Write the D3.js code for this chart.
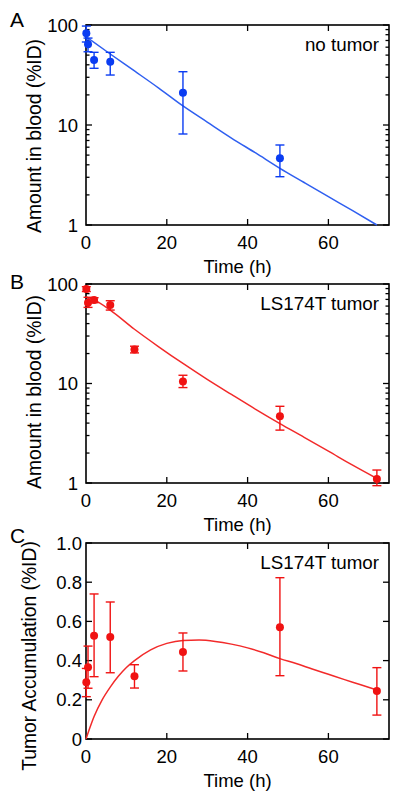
<!DOCTYPE html>
<html><head><meta charset="utf-8">
<script src="https://cdn.jsdelivr.net/npm/d3@7"></script>
<style>
html,body{margin:0;padding:0;background:#fff;}
text{font-family:"Liberation Sans",Arial,Helvetica,sans-serif;fill:#000;}
</style></head>
<body>
<svg id="chart" width="400" height="801"></svg>
<script>
// ---------- data ----------
const xTickValues = [0, 20, 40, 60];
const logTickValues = [1, 10, 100];
const linTickValues = [0, 0.2, 0.4, 0.6, 0.8, 1.0];
const linTickLabels = ["0", "0.2", "0.4", "0.6", "0.8", "1.0"];

// Panel A: blood, no tumor
const aTime = [0.083, 0.5, 2, 6, 24, 48];
const aMean = [82.6, 64.1, 44.7, 43.0, 21.0, 4.64];
const aLow  = [67.6, 54.0, 36.9, 31.6, 8.13, 3.04];
const aHigh = [97.6, 74.0, 53.3, 53.3, 34.1, 6.31];
const aFitTime  = [0, 6, 12, 18, 24, 30, 36, 42, 48, 54, 60, 66, 72];
const aFitValue = [76.4, 51.3, 34.7, 23.4, 15.5, 10.7, 7.41, 5.25, 3.69, 2.66, 1.92, 1.39, 1.0];

// Panel B: blood, LS174T tumor
const bTime = [0.083, 0.5, 2, 6, 12, 24, 48, 72];
const bMean = [89, 64.9, 69, 61.5, 22.0, 10.5, 4.69, 1.10];
const bLow  = [84, 58.2, 64.9, 54.7, 20.3, 9.1, 3.4, 0.94];
const bHigh = [94, 73.5, 72.8, 67.9, 23.7, 12.1, 5.9, 1.35];
const bFitTime  = [0, 2, 6, 12, 18, 24, 30, 36, 42, 48, 54, 60, 66, 72];
const bFitValue = [74.1, 69.2, 54.7, 35.1, 23.4, 15.9, 11.0, 7.76, 5.50, 3.95, 2.88, 2.09, 1.51, 1.11];

// Panel C: tumor accumulation
const cTime = [0.083, 0.5, 2, 6, 12, 24, 48, 72];
const cMean = [0.289, 0.366, 0.527, 0.52, 0.32, 0.444, 0.57, 0.245];
const cLow  = [0.216, 0.259, 0.318, 0.338, 0.26, 0.347, 0.323, 0.122];
const cHigh = [0.36, 0.474, 0.74, 0.699, 0.379, 0.541, 0.823, 0.364];
const cFitTime  = [0, 1, 2, 4, 6, 8, 10, 12, 16, 20, 24, 28, 32, 36, 40, 44, 48, 52, 56, 60, 64, 68, 72];
const cFitValue = [0, 0.06, 0.115, 0.2, 0.265, 0.32, 0.365, 0.40, 0.455, 0.488, 0.503, 0.505, 0.498, 0.484, 0.465, 0.44, 0.41, 0.385, 0.357, 0.33, 0.303, 0.277, 0.25];

// ---------- drawing ----------
const svg = d3.select("#chart");
const BLUE_PT = "#0a3cf2", BLUE_LN = "#2f5ff0";
const RED_PT = "#f01212", RED_LN = "#f22a2a";

function drawPanel(o) {
  const left = 86, right = 389;
  const x = d3.scaleLinear().domain([0, 75]).range([left, right]);
  const y = o.log
    ? d3.scaleLog().domain([1, 100]).range([o.bottom, o.top])
    : d3.scaleLinear().domain([0, 1]).range([o.bottom, o.top]);
  const g = svg.append("g");

  // inward ticks
  const tickLen = 6, minorLen = 3.5;
  const tg = g.append("g").attr("stroke", "#000").attr("stroke-width", 1.3);
  xTickValues.filter(v => v > 0).forEach(v => {
    tg.append("line").attr("x1", x(v)).attr("x2", x(v)).attr("y1", o.bottom).attr("y2", o.bottom - tickLen);
    tg.append("line").attr("x1", x(v)).attr("x2", x(v)).attr("y1", o.top).attr("y2", o.top + tickLen);
  });
  let yMajor, yMinor = [];
  if (o.log) {
    yMajor = logTickValues;
    y.ticks().forEach(v => { if (!logTickValues.includes(v)) yMinor.push(v); });
  } else {
    yMajor = linTickValues;
  }
  yMajor.forEach(v => {
    tg.append("line").attr("x1", left).attr("x2", left + tickLen).attr("y1", y(v)).attr("y2", y(v));
    tg.append("line").attr("x1", right).attr("x2", right - tickLen).attr("y1", y(v)).attr("y2", y(v));
  });
  yMinor.forEach(v => {
    tg.append("line").attr("x1", left).attr("x2", left + minorLen).attr("y1", y(v)).attr("y2", y(v));
    tg.append("line").attr("x1", right).attr("x2", right - minorLen).attr("y1", y(v)).attr("y2", y(v));
  });

  // frame
  g.append("rect").attr("x", left).attr("y", o.top).attr("width", right - left).attr("height", o.bottom - o.top)
    .attr("fill", "none").attr("stroke", "#000").attr("stroke-width", 1.6);

  // tick labels
  xTickValues.forEach(v => {
    g.append("text").attr("x", x(v)).attr("y", o.bottom + 24).attr("text-anchor", "middle")
      .attr("font-size", 18.5).text(v);
  });
  yMajor.forEach((v, i) => {
    g.append("text").attr("x", o.log ? 78 : 82).attr("y", y(v)).attr("dy", "0.36em")
      .attr("text-anchor", "end").attr("font-size", 18.5)
      .text(o.log ? v : linTickLabels[i]);
  });

  // axis titles
  g.append("text").attr("x", (left + right) / 2).attr("y", o.bottom + 47.5).attr("text-anchor", "middle")
    .attr("font-size", 18.5).text("Time (h)");
  g.append("text").attr("transform", `translate(${o.titleX},${o.titleY}) rotate(-90)`)
    .attr("text-anchor", "middle").attr("font-size", 19.3).text(o.yTitle);

  // panel letter
  g.append("text").attr("x", 10).attr("y", o.letterY).attr("font-size", 21).text(o.letter);
  // annotation
  g.append("text").attr("x", 379).attr("y", o.top + 26).attr("text-anchor", "end")
    .attr("font-size", 18.8).text(o.note);

  // fit line
  const line = d3.line().x(d => x(d[0])).y(d => y(d[1])).curve(d3.curveMonotoneX);
  g.append("path").datum(o.fitT.map((t, i) => [t, o.fitV[i]]))
    .attr("d", line).attr("fill", "none").attr("stroke", o.lineColor).attr("stroke-width", 1.5);

  // error bars
  const eg = g.append("g").attr("stroke", o.ptColor).attr("stroke-width", 1.4);
  o.t.forEach((t, i) => {
    const cx = x(t);
    eg.append("line").attr("x1", cx).attr("x2", cx).attr("y1", y(o.lo[i])).attr("y2", y(o.hi[i]));
    [o.lo[i], o.hi[i]].forEach(v => {
      eg.append("line").attr("x1", cx - 4.5).attr("x2", cx + 4.5).attr("y1", y(v)).attr("y2", y(v));
    });
  });
  // points
  g.append("g").selectAll("circle").data(o.t.map((t, i) => [t, o.mean[i]])).join("circle")
    .attr("cx", d => x(d[0])).attr("cy", d => y(d[1])).attr("r", 4).attr("fill", o.ptColor);
}

drawPanel({ top: 25, bottom: 225, log: true, letter: "A", letterY: 27, note: "no tumor",
  yTitle: "Amount in blood (%ID)", titleX: 41, titleY: 136,
  t: aTime, mean: aMean, lo: aLow, hi: aHigh, fitT: aFitTime, fitV: aFitValue,
  ptColor: BLUE_PT, lineColor: BLUE_LN });

drawPanel({ top: 284, bottom: 483, log: true, letter: "B", letterY: 289, note: "LS174T tumor",
  yTitle: "Amount in blood (%ID)", titleX: 41, titleY: 392,
  t: bTime, mean: bMean, lo: bLow, hi: bHigh, fitT: bFitTime, fitV: bFitValue,
  ptColor: RED_PT, lineColor: RED_LN });

drawPanel({ top: 543, bottom: 739, log: false, letter: "C", letterY: 543, note: "LS174T tumor",
  yTitle: "Tumor Accumulation (%ID)", titleX: 36, titleY: 656,
  t: cTime, mean: cMean, lo: cLow, hi: cHigh, fitT: cFitTime, fitV: cFitValue,
  ptColor: RED_PT, lineColor: RED_LN });
</script>
</body></html>
